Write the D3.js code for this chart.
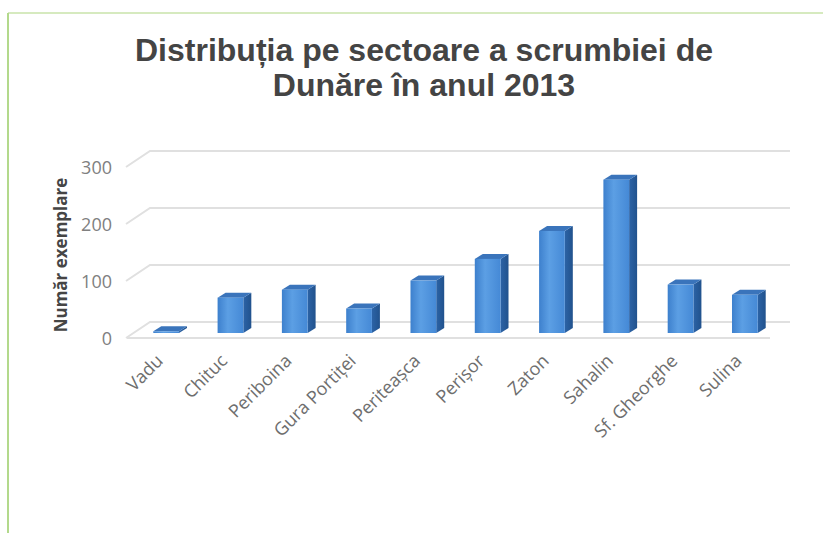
<!DOCTYPE html>
<html>
<head>
<meta charset="utf-8">
<script src="https://cdn.jsdelivr.net/npm/d3@7"></script>
<style>
  html, body { margin: 0; padding: 0; background: #ffffff; }
  svg { display: block; }
</style>
</head>
<body>
<svg id="chart" width="823" height="533"></svg>
<script>
// Sectors along the Danube Delta coast
const categories = ["Vadu", "Chituc", "Periboina", "Gura Portiței", "Periteașca",
                    "Perișor", "Zaton", "Sahalin", "Sf. Gheorghe", "Sulina"];
// Number of specimens recorded in each sector (2013)
const specimens = [3, 62, 76, 43, 92, 130, 179, 269, 85, 67];
const yTicks = [0, 100, 200, 300];
const titleLines = ["Distribuția pe sectoare a scrumbiei de", "Dunăre în anul 2013"];
const yAxisTitle = "Număr exemplare";

const svg = d3.select("#chart");

// frame lines along top and left edge
svg.append("line").attr("x1", 8).attr("x2", 823).attr("y1", 13).attr("y2", 13)
  .attr("stroke", "#d6eabf").attr("stroke-width", 2);
svg.append("line").attr("x1", 8).attr("x2", 8).attr("y1", 13).attr("y2", 533)
  .attr("stroke", "#b3d98c").attr("stroke-width", 2);

// title
svg.append("text")
  .attr("x", 424).attr("y", 61)
  .attr("text-anchor", "middle")
  .attr("font-family", "'Liberation Sans', Arial, sans-serif")
  .attr("font-weight", "bold").attr("font-size", 32)
  .attr("fill", "#444444")
  .selectAll("tspan").data(titleLines).join("tspan")
  .attr("x", 424).attr("dy", (d, i) => i === 0 ? 0 : 35)
  .text(d => d);

// 3D geometry: floor front edge and wall depth
const floorLeft = 127, floorRight = 770;
const wallDX = 24, wallDY = -16;      // depth of the side wall / floor
const barDX = 8, barDY = -5;          // depth of each column
const barShiftX = 7, barShiftY = -5;  // columns sit slightly behind the floor edge

const x = d3.scaleBand().domain(categories)
  .range([floorLeft, floorRight]).paddingInner(0.6).paddingOuter(0.3);
const y = d3.scaleLinear().domain([0, 300]).range([338, 167]);

// gridlines: slanted on the side wall, straight on the back wall
const grid = svg.append("g").attr("stroke", "#e0e0e0").attr("stroke-width", 2).attr("fill", "none");
yTicks.forEach(t => {
  const yf = y(t), yb = y(t) + wallDY;
  grid.append("path")
    .attr("d", `M${floorLeft - 1},${yf} L${floorLeft - 1 + wallDX},${yb} L${floorRight + wallDX - 4},${yb}`);
});
// front edge of the floor
grid.append("line")
  .attr("x1", floorLeft).attr("x2", floorRight)
  .attr("y1", y(0)).attr("y2", y(0));

// y tick labels
svg.append("g")
  .attr("font-family", "'Open Sans', sans-serif").attr("font-size", 18)
  .attr("fill", "#808080").attr("text-anchor", "end")
  .selectAll("text").data(yTicks).join("text")
  .attr("x", 112).attr("y", d => y(d) + 1).attr("dy", "0.35em")
  .text(d => d);

// y axis title
svg.append("text")
  .attr("transform", "translate(67,255) rotate(-90)")
  .attr("text-anchor", "middle")
  .attr("font-family", "'Open Sans', sans-serif").attr("font-size", 17)
  .attr("font-weight", "bold").attr("fill", "#454545")
  .text(yAxisTitle);

// column shading
const defs = svg.append("defs");
const gFront = defs.append("linearGradient").attr("id", "front").attr("x1", 0).attr("x2", 1);
gFront.append("stop").attr("offset", "0%").attr("stop-color", "#3d80cd");
gFront.append("stop").attr("offset", "40%").attr("stop-color", "#5c9fe4");
gFront.append("stop").attr("offset", "100%").attr("stop-color", "#4589d6");
const gSide = defs.append("linearGradient").attr("id", "side").attr("x1", 0).attr("x2", 1);
gSide.append("stop").attr("offset", "0%").attr("stop-color", "#2c63a6");
gSide.append("stop").attr("offset", "100%").attr("stop-color", "#21528d");

const bars = svg.append("g").selectAll("g").data(categories).join("g");
const base = y(0) + barShiftY;
bars.each(function (c, i) {
  const g = d3.select(this);
  const x0 = x(c) + barShiftX, w = x.bandwidth();
  const top = y(specimens[i]) + barShiftY;
  // right side face
  g.append("path")
    .attr("d", `M${x0 + w},${base} L${x0 + w},${top} L${x0 + w + barDX},${top + barDY} L${x0 + w + barDX},${base + barDY} Z`)
    .attr("fill", "url(#side)");
  // top face
  g.append("path")
    .attr("d", `M${x0},${top} L${x0 + barDX},${top + barDY} L${x0 + w + barDX},${top + barDY} L${x0 + w},${top} Z`)
    .attr("fill", "#3a74bb");
  // front face
  g.append("rect")
    .attr("x", x0).attr("y", top).attr("width", w).attr("height", Math.max(0.5, base - top))
    .attr("fill", "url(#front)");
});

// category labels, rotated
svg.append("g")
  .attr("font-family", "'Open Sans', sans-serif").attr("font-size", 18)
  .attr("fill", "#6e6e6e").attr("text-anchor", "end")
  .selectAll("text").data(categories).join("text")
  .attr("transform", c => `translate(${x(c) + x.bandwidth() / 2 + 5},362) rotate(-45)`)
  .text(c => c);
</script>
</body>
</html>
